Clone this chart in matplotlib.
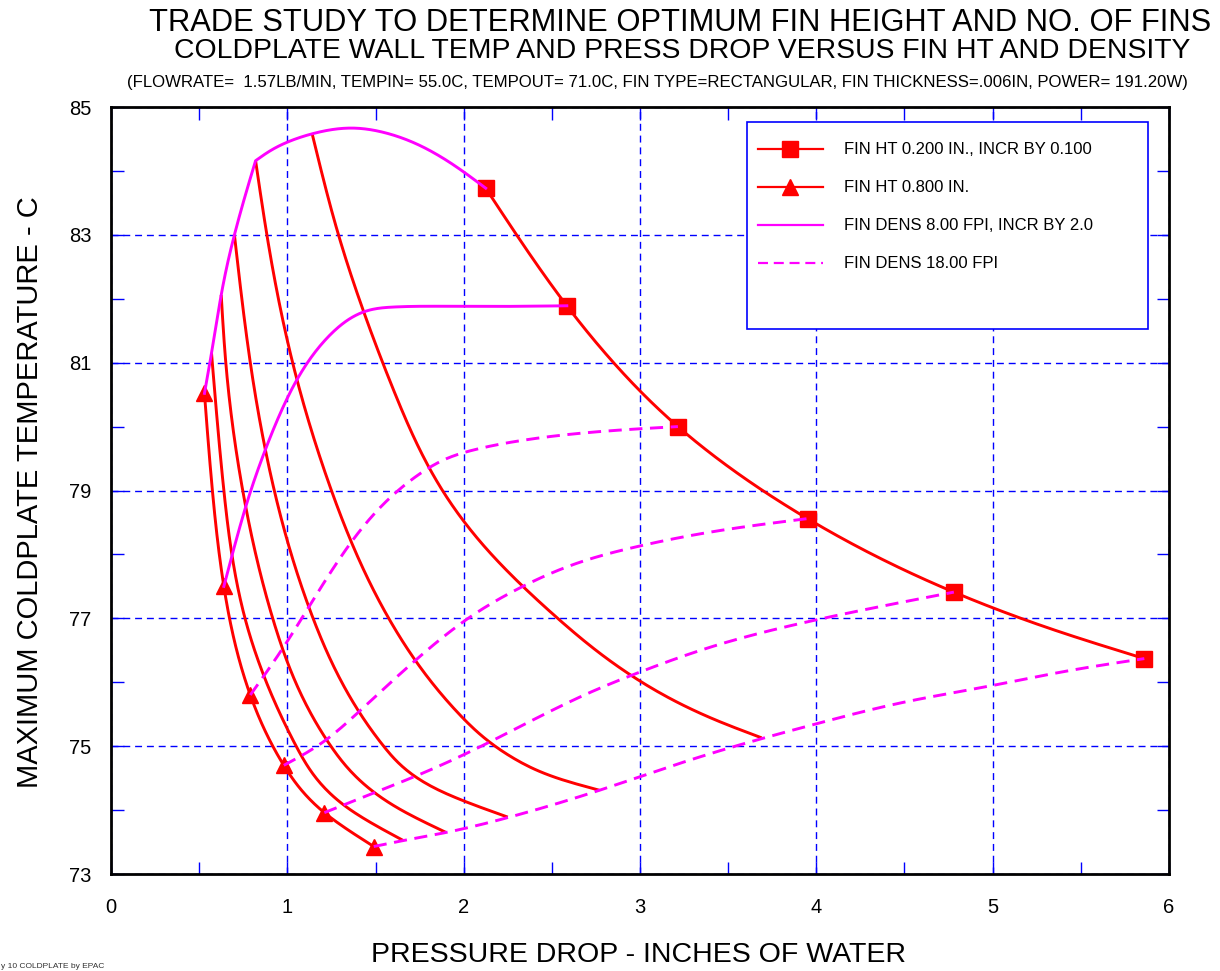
import numpy as np
import matplotlib
matplotlib.use("Agg")
import matplotlib.pyplot as plt
from matplotlib.lines import Line2D
from matplotlib.patches import Rectangle

plt.rcParams['font.family'] = ['Liberation Sans', 'DejaVu Sans']

# ---------------- data ----------------
# node markers
sq_dp = [2.125, 2.585, 3.215, 3.95, 4.78, 5.86]          # FIN HT 0.200, 8..18 FPI
sq_t = [83.73, 81.89, 80.00, 78.56, 77.41, 76.37]
tri_dp = [0.53, 0.64, 0.79, 0.98, 1.21, 1.49]            # FIN HT 0.800, 8..18 FPI
tri_t = [80.52, 77.50, 75.80, 74.70, 73.96, 73.43]

# constant fin height curves (8 -> 18 FPI)
ht080_dp = [0.53, 0.575, 0.64, 0.79, 0.98, 1.21, 1.49]
ht080_t = [80.52, 79.00, 77.50, 75.80, 74.70, 73.96, 73.43]
ht070_dp = [0.57, 0.64, 0.76, 1.05, 1.36, 1.66]
ht070_t = [81.15, 79.00, 77.00, 75.00, 74.00, 73.52]
ht060_dp = [0.625, 0.651, 0.747, 0.917, 1.247, 1.647, 1.90]
ht060_t = [82.06, 81.00, 79.00, 77.00, 75.00, 74.00, 73.65]
ht050_dp = [0.70, 0.79, 0.926, 1.146, 1.546, 1.868, 2.25]
ht050_t = [83.00, 81.00, 79.00, 77.00, 75.00, 74.30, 73.89]
ht040_dp = [0.82, 0.884, 1.03, 1.25, 1.575, 1.975, 2.29, 2.565, 2.77]
ht040_t = [84.16, 83.00, 81.00, 79.00, 77.00, 75.50, 74.80, 74.47, 74.31]
ht030_dp = [1.14, 1.29, 1.43, 1.61, 1.79, 1.915, 2.135, 2.525, 2.965, 3.455, 3.69]
ht030_t = [84.59, 83.00, 81.82, 80.52, 79.43, 78.85, 78.07, 77.02, 76.08, 75.38, 75.13]
ht020_dp = [2.125, 2.30, 2.585, 2.85, 3.215, 3.95, 4.78, 5.39, 5.86]
ht020_t = [83.73, 83.00, 81.89, 81.00, 80.00, 78.56, 77.41, 76.78, 76.37]

# constant fin density curves (0.8 -> 0.2 in.)
dens08_dp = [0.53, 0.57, 0.625, 0.70, 0.82, 0.90, 1.00, 1.14, 1.37, 1.55, 1.75, 1.95, 2.125]
dens08_t = [80.52, 81.15, 82.06, 83.00, 84.16, 84.31, 84.45, 84.58, 84.67, 84.60, 84.40, 84.08, 83.73]
dens10_dp = [0.64, 0.77, 0.87, 1.03, 1.22, 1.35, 1.45, 1.60, 2.00, 2.585]
dens10_t = [77.50, 78.80, 79.60, 80.61, 81.37, 81.68, 81.81, 81.87, 81.88, 81.89]
dens12_dp = [0.79, 0.995, 1.12, 1.37, 1.55, 1.72, 1.88, 2.05, 2.30, 2.72, 3.215]
dens12_t = [75.80, 76.62, 77.17, 78.22, 78.80, 79.20, 79.47, 79.63, 79.77, 79.91, 80.00]
dens14_dp = [0.98, 1.22, 1.43, 1.75, 2.01, 2.30, 2.62, 2.98, 3.40, 3.95]
dens14_t = [74.70, 75.10, 75.60, 76.40, 76.97, 77.45, 77.84, 78.12, 78.35, 78.56]
dens16_dp = [1.21, 1.52, 1.82, 2.10, 2.40, 2.70, 3.00, 3.40, 3.80, 4.30, 4.78]
dens16_t = [73.96, 74.30, 74.64, 75.00, 75.42, 75.82, 76.16, 76.55, 76.85, 77.15, 77.41]
dens18_dp = [1.49, 1.67, 1.90, 2.26, 2.77, 3.28, 3.68, 4.00, 4.45, 5.00, 5.39, 5.86]
dens18_t = [73.43, 73.53, 73.65, 73.89, 74.31, 74.78, 75.11, 75.35, 75.66, 75.95, 76.16, 76.37]

x_ticks = [0, 1, 2, 3, 4, 5, 6]
y_ticks = [73, 75, 77, 79, 81, 83, 85]

legend_labels = ["FIN HT 0.200 IN., INCR BY 0.100", "FIN HT 0.800 IN.",
                 "FIN DENS 8.00 FPI, INCR BY 2.0", "FIN DENS 18.00 FPI"]

title1 = "TRADE STUDY TO DETERMINE OPTIMUM FIN HEIGHT AND NO. OF FINS"
title2 = "COLDPLATE WALL TEMP AND PRESS DROP VERSUS FIN HT AND DENSITY"
title3 = ("(FLOWRATE=  1.57LB/MIN, TEMPIN= 55.0C, TEMPOUT= 71.0C, FIN TYPE=RECTANGULAR, "
          "FIN THICKNESS=.006IN, POWER= 191.20W)")
xlabel = "PRESSURE DROP - INCHES OF WATER"
ylabel = "MAXIMUM COLDPLATE TEMPERATURE - C"
footer = "y 10 COLDPLATE by EPAC"

# ---------------- rendering helpers ----------------
W, H = 1220, 971
RED = '#ff0000'
MAG = '#ff00ff'
BLUE = '#0000ff'


def fx(px):
    return px / W


def fy(py):
    return 1 - py / H


def natural_spline(t, v, n=300):
    """smooth drawing path (natural cubic spline) through the read points"""
    t = np.asarray(t, float)
    v = np.asarray(v, float)
    order = np.argsort(t)
    t, v = t[order], v[order]
    m = len(t)
    if m < 3:
        return t, v
    h = np.diff(t)
    A = np.zeros((m, m))
    r = np.zeros(m)
    A[0, 0] = A[-1, -1] = 1.0
    for i in range(1, m - 1):
        A[i, i - 1] = h[i - 1]
        A[i, i] = 2 * (h[i - 1] + h[i])
        A[i, i + 1] = h[i]
        r[i] = 6 * ((v[i + 1] - v[i]) / h[i] - (v[i] - v[i - 1]) / h[i - 1])
    M = np.linalg.solve(A, r)
    tt = np.linspace(t[0], t[-1], n)
    idx = np.clip(np.searchsorted(t, tt) - 1, 0, m - 2)
    hi = h[idx]
    a = (t[idx + 1] - tt) / hi
    b = (tt - t[idx]) / hi
    vv = a * v[idx] + b * v[idx + 1] + ((a ** 3 - a) * M[idx] + (b ** 3 - b) * M[idx + 1]) * hi ** 2 / 6
    return tt, vv


def ht_path(dp, t):
    # pressure drop as a smooth function of temperature
    tt, xx = natural_spline(t, dp)
    return xx, tt


def dens_path(dp, t, breaks=()):
    xs, ys = [], []
    cuts = [0] + list(breaks) + [len(dp) - 1]
    for a, b in zip(cuts[:-1], cuts[1:]):
        sx, sy = natural_spline(dp[a:b + 1], t[a:b + 1])
        xs.append(sx)
        ys.append(sy)
    return np.concatenate(xs), np.concatenate(ys)


fig = plt.figure(figsize=(W / 100, H / 100), dpi=100)
ax = fig.add_axes([fx(111), fy(874), fx(1169) - fx(111), fy(107) - fy(874)])

LW = 2.1
DASH = (4.5, 2.6)

ht_curves = [(ht080_dp, ht080_t), (ht070_dp, ht070_t), (ht060_dp, ht060_t),
             (ht050_dp, ht050_t), (ht040_dp, ht040_t), (ht030_dp, ht030_t),
             (ht020_dp, ht020_t)]
for cx, cy in ht_curves:
    sx, sy = ht_path(cx, cy)
    ax.plot(sx, sy, color=RED, lw=LW, zorder=3, solid_capstyle='butt')

ax.plot(sq_dp, sq_t, linestyle='none', marker='s', ms=12, color=RED, zorder=4)
ax.plot(tri_dp, tri_t, linestyle='none', marker='^', ms=12, color=RED, zorder=4)

dens_curves = [(dens08_dp, dens08_t, False, (4,)), (dens10_dp, dens10_t, False, ()),
               (dens12_dp, dens12_t, True, ()), (dens14_dp, dens14_t, True, ()),
               (dens16_dp, dens16_t, True, ()), (dens18_dp, dens18_t, True, ())]
for cx, cy, dashed, brk in dens_curves:
    sx, sy = dens_path(cx, cy, brk)
    line, = ax.plot(sx, sy, color=MAG, lw=LW, zorder=5)
    if dashed:
        line.set_dashes(DASH)
        line.set_dash_capstyle('butt')

ax.set_xlim(0, 6)
ax.set_ylim(73, 85)
ax.set_xticks(x_ticks)
ax.set_yticks(y_ticks)
ax.set_xticks(np.arange(0, 6.01, 0.5), minor=True)
ax.set_yticks(np.arange(73, 85.01, 1.0), minor=True)
ax.tick_params(which='both', direction='in', color=BLUE, top=True, right=True,
               length=9, width=1.0, labelsize=14.5, labelcolor='black')
ax.tick_params(axis='x', pad=17)
ax.tick_params(axis='y', pad=14)
ax.grid(True, which='major', color=BLUE, linewidth=1.0, linestyle=(0, (5, 3.5)), zorder=1)
ax.set_axisbelow(True)
for sp in ax.spines.values():
    sp.set_linewidth(2.0)
    sp.set_color('black')
    sp.set_zorder(6)

# titles / labels
fig.text(fx(680), fy(23), title1, ha='center', va='center', fontsize=22.2)
fig.text(fx(682), fy(51), title2, ha='center', va='center', fontsize=20.4)
fig.text(fx(657), fy(83), title3, ha='center', va='center', fontsize=12.1)
fig.text(fx(638), fy(955), xlabel, ha='center', va='center', fontsize=20.5)
fig.text(fx(30), fy(492), ylabel, ha='center', va='center', rotation=90, fontsize=21)
fig.text(fx(1), fy(968), footer, ha='left', va='baseline', fontsize=6, color='#333333')

# legend box (drawn manually to match the reference layout)
box = Rectangle((fx(747), fy(329)), fx(1148) - fx(747), fy(122) - fy(329),
                transform=fig.transFigure, facecolor='white', edgecolor=BLUE,
                linewidth=1.2, zorder=10)
fig.add_artist(box)
rows = [149, 187, 225, 263]
styles = [dict(color=RED, marker='s', ms=12), dict(color=RED, marker='^', ms=12),
          dict(color=MAG), dict(color=MAG, dashes=DASH)]
for ry, lab, st in zip(rows, legend_labels, styles):
    st = dict(st)
    dashes = st.pop('dashes', None)
    ln = Line2D([fx(758), fx(823)], [fy(ry), fy(ry)], transform=fig.transFigure,
                lw=1.6, zorder=11, markevery=[], **st)
    if dashes is not None:
        ln.set_dashes(dashes)
    fig.add_artist(ln)
    if 'marker' in st:
        mk = Line2D([fx(790)], [fy(ry)], transform=fig.transFigure, linestyle='none',
                    zorder=12, **st)
        fig.add_artist(mk)
    fig.text(fx(844), fy(ry), lab, ha='left', va='center', fontsize=12, zorder=12)

fig.savefig('out.png', dpi=100)
